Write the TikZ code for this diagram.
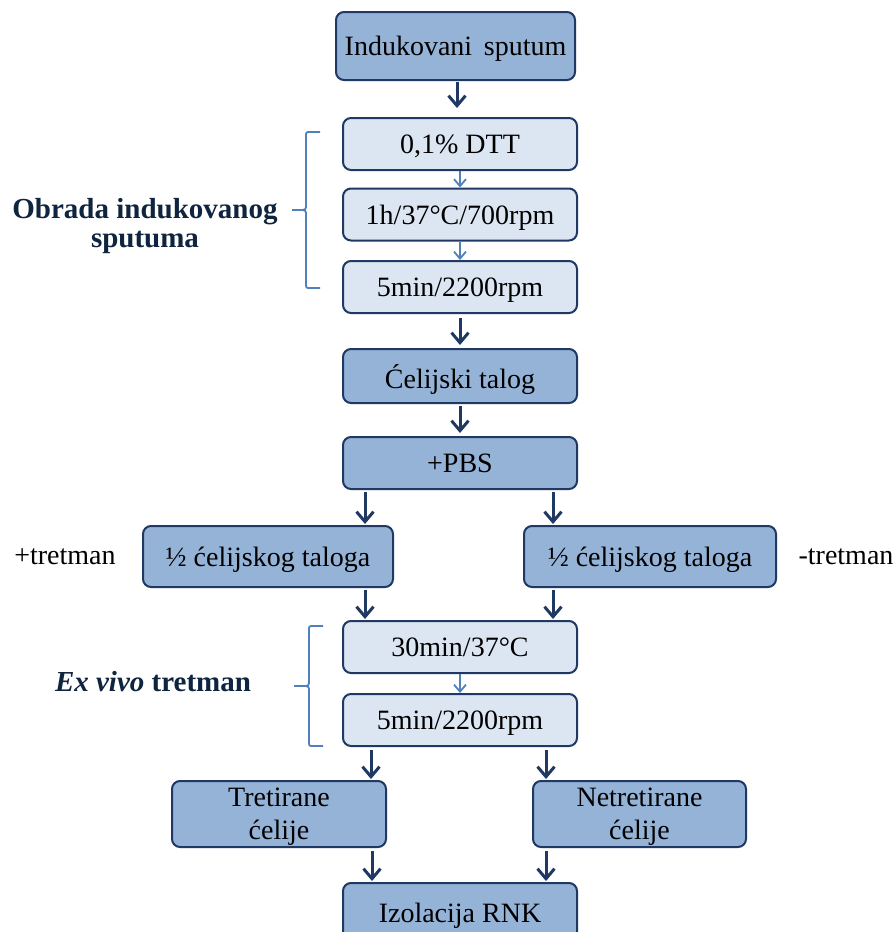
\documentclass[tikz,border=0pt]{standalone}
\usepackage{fontspec}
\setmainfont{Liberation Serif}
\usepackage{tikz}
\usetikzlibrary{arrows.meta}

\definecolor{boxdark}{HTML}{95B3D7}
\definecolor{boxlight}{HTML}{DCE6F2}
\definecolor{boxline}{HTML}{1F3864}
\definecolor{arrdark}{HTML}{1F3864}
\definecolor{arrlight}{HTML}{4F81BD}
\definecolor{headtext}{HTML}{0F243E}

\begin{document}
\begin{tikzpicture}[x=1pt,y=-1pt,font=\fontsize{28}{33}\selectfont]

	\tikzstyle{darkbox}=[draw=boxline,line width=2pt,fill=boxdark,rounded corners=8pt,inner sep=0pt,align=center,text depth=0pt]
	\tikzstyle{lightbox}=[draw=boxline,line width=2pt,fill=boxlight,rounded corners=8pt,inner sep=0pt,align=center,text depth=0pt,minimum width=234pt,minimum height=52pt]
	\tikzstyle{bigarrow}=[arrdark,line width=3pt,-{Straight Barb[length=10pt,width=17pt,line width=3pt]}]
	\tikzstyle{smallarrow}=[arrlight,line width=1.8pt,-{Straight Barb[length=7pt,width=12pt,line width=1.8pt]}]
	\tikzstyle{bracket}=[arrlight,line width=1.8pt]
	\tikzstyle{grouplabel}=[text=headtext,font=\fontsize{29}{29}\selectfont\bfseries,align=center]

	\clip (0,0) rectangle (894,932);
	\fill[white] (0,0) rectangle (894,932);

	% main column
	\node[darkbox,minimum width=239pt,minimum height=68pt] (ind) at (455.5,46) {Indukovani\, sputum};
	\node[lightbox] (dtt) at (460,144) {0,1\% DTT};
	\node[lightbox] (mix) at (460,214.5) {1h/37°C/700rpm};
	\node[lightbox] (spinA) at (460,287) {5min/2200rpm};
	\node[darkbox,minimum width=234pt,minimum height=54pt] (talog) at (460,376) {Ćelijski talog};
	\node[darkbox,minimum width=234pt,minimum height=52pt] (pbs) at (460,463) {+PBS};

	% the two halves
	\node[darkbox,minimum width=250pt,minimum height=61pt] (halfL) at (268,556.5) {½ ćelijskog taloga};
	\node[darkbox,minimum width=252pt,minimum height=61pt] (halfR) at (650,556.5) {½ ćelijskog taloga};
	\node (plus) at (65,557) {+tretman};
	\node (minus) at (846,557) {-tretman};

	\node[lightbox] (inc) at (460,647) {30min/37°C};
	\node[lightbox] (spinB) at (460,720) {5min/2200rpm};

	\node[darkbox,minimum width=214pt,minimum height=66pt] (tret) at (279,814) {Tretirane\\ćelije};
	\node[darkbox,minimum width=213pt,minimum height=66pt] (netret) at (639.5,814) {Netretirane\\ćelije};
	\node[darkbox,minimum width=234pt,minimum height=60pt] (rnk) at (460,913) {Izolacija RNK};

	% group labels
	\node[grouplabel] (obrada) at (145,226) {Obrada indukovanog\\sputuma};
	\node[grouplabel] (exvivo) at (153,682) {\textit{Ex vivo} tretman};

	% arrows
	\draw[bigarrow] ([xshift=1.5pt,yshift=-1pt]ind.south) -- ([xshift=-3pt,yshift=9pt]dtt.north);
	\draw[smallarrow] (dtt.south) -- (mix.north);
	\draw[smallarrow] (mix.south) -- (spinA.north);
	\draw[bigarrow] ([yshift=-4pt]spinA.south) -- ([yshift=3pt]talog.north);
	\draw[bigarrow] ([yshift=-2pt]talog.south) -- ([yshift=3pt]pbs.north);
	\draw[bigarrow] ([xshift=-95pt,yshift=-2pt]pbs.south) -- ([xshift=-95pt,yshift=1pt]pbs.south |- halfL.north);
	\draw[bigarrow] ([xshift=93pt,yshift=-2pt]pbs.south) -- ([xshift=93pt,yshift=1pt]pbs.south |- halfR.north);
	\draw[bigarrow] ([xshift=-95pt,yshift=-2pt]pbs.south |- halfL.south) -- ([xshift=-95pt,yshift=1pt]inc.north);
	\draw[bigarrow] ([xshift=93pt,yshift=-2pt]pbs.south |- halfR.south) -- ([xshift=93pt,yshift=1pt]inc.north);
	\draw[smallarrow] (inc.south) -- (spinB.north);
	\draw[bigarrow] ([xshift=-89pt,yshift=-3pt]spinB.south) -- ([xshift=-89pt,yshift=1pt]spinB.south |- tret.north);
	\draw[bigarrow] ([xshift=86pt,yshift=-3pt]spinB.south) -- ([xshift=86pt,yshift=1pt]spinB.south |- netret.north);
	\draw[bigarrow] ([xshift=-88pt,yshift=-3pt]spinB.south |- tret.south) -- ([xshift=-88pt,yshift=1pt]rnk.north);
	\draw[bigarrow] ([xshift=86pt,yshift=-3pt]spinB.south |- netret.south) -- ([xshift=86pt,yshift=1pt]rnk.north);

	% brackets
	\draw[bracket] (320,132) -- (310,132) .. controls (306,132) .. (306,137) -- (306,204) .. controls (306,210) .. (299,210) -- (292,210);
	\draw[bracket] (320,288) -- (310,288) .. controls (306,288) .. (306,283) -- (306,216) .. controls (306,210) .. (299,210);
	\draw[bracket] (323,626) -- (313,626) .. controls (309,626) .. (309,631) -- (309,680) .. controls (309,686) .. (302,686) -- (294,686);
	\draw[bracket] (323,746) -- (313,746) .. controls (309,746) .. (309,741) -- (309,692) .. controls (309,686) .. (302,686);
\end{tikzpicture}
\end{document}
